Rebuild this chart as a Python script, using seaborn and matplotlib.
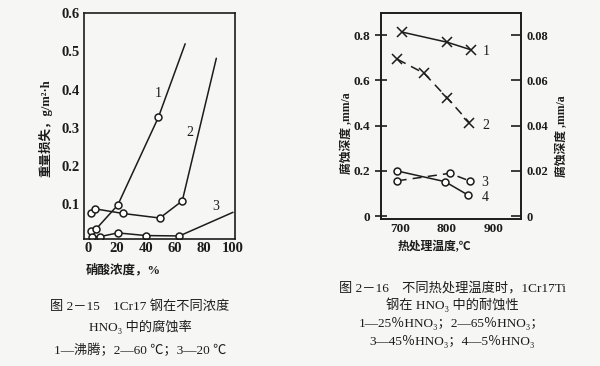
import matplotlib
matplotlib.use('Agg')
import matplotlib.pyplot as plt
import pandas as pd
import seaborn as sns

# 图 2-15: 1Cr17 in HNO3, weight loss vs concentration
conc_1 = [2, 5.5, 20.5, 48.5, 67]
loss_1 = [0.029, 0.034, 0.097, 0.327, 0.52]
conc_2 = [2, 5, 24, 49.5, 65, 88.5]
loss_2 = [0.076, 0.087, 0.075, 0.063, 0.108, 0.482]
conc_3 = [3, 8, 20.5, 40, 63, 100]
loss_3 = [0.013, 0.014, 0.024, 0.017, 0.016, 0.078]
conc_ticks = [0, 20, 40, 60, 80, 100]
loss_ticks = [0.1, 0.2, 0.3, 0.4, 0.5, 0.6]

# 图 2-16: 1Cr17Ti, corrosion depth vs heat treatment temperature
temp_1 = [705, 802, 852]
depth_1 = [0.813, 0.768, 0.735]
temp_2 = [695, 752, 802, 849]
depth_2 = [0.693, 0.631, 0.521, 0.413]
temp_3 = [695, 807, 850]
depth_3 = [0.156, 0.189, 0.155]
temp_4 = [695, 797, 846]
depth_4 = [0.199, 0.152, 0.093]
temp_ticks = [700, 800, 900]
depth_ticks = [0, 0.2, 0.4, 0.6, 0.8]
depth_ticks_r = [0, 0.02, 0.04, 0.06, 0.08]

sns.set_theme(style='white')
plt.rcParams['font.family'] = ['Liberation Serif', 'Noto Sans CJK SC', 'DejaVu Sans']

INK = '#1c1c1c'
PAPER = '#f6f6f4'


def draw_curve(ax, x, y, marker, n_marked, ls='-', ms=5):
    df = pd.DataFrame({'x': x, 'y': y})
    sns.lineplot(data=df, x='x', y='y', ax=ax, color=INK, lw=1.1, linestyle=ls,
                 marker=marker, markevery=list(range(n_marked)), markersize=ms,
                 markerfacecolor='white', markeredgecolor=INK, markeredgewidth=1.1,
                 sort=False, estimator=None)


def style_axes(ax):
    ax.set_facecolor(PAPER)
    for s in ax.spines.values():
        s.set_visible(True)
        s.set_color(INK)
        s.set_linewidth(1.2)
    ax.set_xlabel('')
    ax.set_ylabel('')
    for lab in ax.get_xticklabels() + ax.get_yticklabels():
        lab.set_fontweight('bold')
        lab.set_color(INK)


fig = plt.figure(figsize=(6, 3.66), dpi=100, facecolor=PAPER)

# ---- left chart ----
ax1 = fig.add_axes([0.14, 0.347, 0.2517, 0.6167])
draw_curve(ax1, conc_1, loss_1, 'o', 4)
draw_curve(ax1, conc_2, loss_2, 'o', 5)
draw_curve(ax1, conc_3, loss_3, 'o', 5)
ax1.set_xlim(-2.8, 101.4)
ax1.set_ylim(0.008, 0.6)
ax1.set_xticks(conc_ticks)
ax1.set_yticks(loss_ticks)
ax1.set_yticklabels([f'{v:.1f}' for v in loss_ticks], fontsize=10.5)
ax1.set_xticklabels([str(v) for v in conc_ticks], fontsize=10.5)
ax1.tick_params(axis='y', direction='in', length=9, width=1.2, pad=3, color=INK)
ax1.tick_params(axis='x', direction='in', length=6, width=1.2, pad=2, color=INK)
style_axes(ax1)
ax1.text(46, 0.38, '1', fontsize=10, color=INK)
ax1.text(68, 0.277, '2', fontsize=10, color=INK)
ax1.text(86, 0.083, '3', fontsize=10, color=INK)

fig.text(0.075, 1 - 128 / 366, '重量损失，g/m²·h', rotation=90, ha='center', va='center',
         fontsize=9, fontweight='bold', color=INK)
fig.text(123 / 600, 1 - 270 / 366, '硝酸浓度，%', ha='center', va='center',
         fontsize=9, fontweight='bold', color=INK)

# ---- right chart ----
ax2 = fig.add_axes([0.6345, 0.4016, 0.2333, 0.562])
draw_curve(ax2, temp_1, depth_1, 'x', 3, ms=7)
draw_curve(ax2, temp_2, depth_2, 'x', 4, ls=(0, (6, 4)), ms=7)
draw_curve(ax2, temp_3, depth_3, 'o', 3, ls=(0, (6, 4)), ms=5)
draw_curve(ax2, temp_4, depth_4, 'o', 3, ms=5)
ax2.set_xlim(659, 959)
ax2.set_ylim(-0.013, 0.896)
ax2.set_xticks(temp_ticks)
ax2.set_yticks(depth_ticks)
ax2.set_xticklabels([str(v) for v in temp_ticks], fontsize=9.5)
ax2.set_yticklabels(['0', '0.2', '0.4', '0.6', '0.8'], fontsize=9.5)
ax2.tick_params(axis='y', direction='inout', length=9, width=1.2, pad=3, color=INK)
ax2.tick_params(axis='x', direction='in', length=6, width=1.2, pad=3, color=INK)
style_axes(ax2)

ax2r = ax2.twinx()
ax2r.set_ylim(-0.0013, 0.0896)
ax2r.set_yticks(depth_ticks_r)
ax2r.set_yticklabels(['0', '0.02', '0.04', '0.06', '0.08'], fontsize=9)
ax2r.tick_params(axis='y', direction='in', length=7, width=1.2, pad=4, color=INK)
style_axes(ax2r)
ax2r.patch.set_alpha(0)

for lbl, tx, ty in [('1', 877, 0.727), ('2', 877, 0.40), ('3', 875, 0.15), ('4', 875, 0.08)]:
    ax2.text(tx, ty, lbl, fontsize=10, color=INK, va='center')

fig.text(347 / 600, 1 - 133 / 366, '腐蚀深度 ,mm/a', rotation=90, ha='center', va='center',
         fontsize=8.5, fontweight='bold', color=INK)
fig.text(562 / 600, 1 - 136 / 366, '腐蚀深度 ,mm/a', rotation=90, ha='center', va='center',
         fontsize=8.5, fontweight='bold', color=INK)
fig.text(434 / 600, 1 - 247 / 366, '热处理温度,℃', ha='center', va='center',
         fontsize=8.5, fontweight='bold', color=INK)

# ---- captions ----
cap_left = ['图 2－15　1Cr17 钢在不同浓度', 'HNO₃ 中的腐蚀率', '1—沸腾；2—60 ℃；3—20 ℃']
for line, py in zip(cap_left, [307, 327, 350]):
    fig.text(140 / 600, 1 - py / 366, line, ha='center', va='center', fontsize=9.5, color=INK)

cap_right = ['图 2－16　不同热处理温度时，1Cr17Ti', '钢在 HNO₃ 中的耐蚀性',
             '1—25％HNO₃；2—65％HNO₃；', '3—45％HNO₃；4—5％HNO₃']
for line, py in zip(cap_right, [288, 305, 323, 342]):
    fig.text(452 / 600, 1 - py / 366, line, ha='center', va='center', fontsize=9.5, color=INK)

fig.savefig('out.png', dpi=100, facecolor=PAPER)
